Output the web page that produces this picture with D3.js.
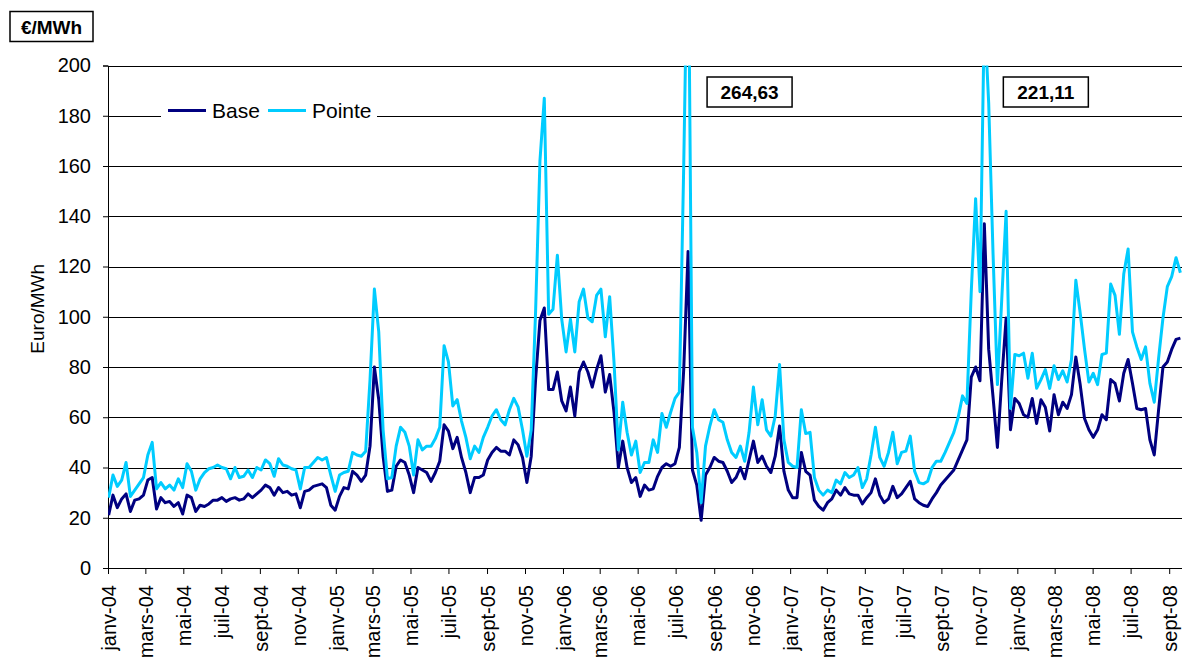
<!DOCTYPE html>
<html><head><meta charset="utf-8">
<script src="https://cdn.jsdelivr.net/npm/d3@7"></script>
<style>
html,body{margin:0;padding:0;background:#fff;overflow:hidden;}
svg{display:block;}
text{font-family:"Liberation Sans",Arial,sans-serif;fill:#000;}
</style></head>
<body>
<svg id="chart" width="1182" height="659"></svg>
<script>
// ---- data (weekly averages, €/MWh), first week starting 2 Jan 2004 ----
const seriesNames = ["Base", "Pointe"];
const base = [21,29,24,27.5,29.5,22.5,27,27.5,29,35,36,23.5,28,26,26.5,24.5,26,21.5,29,28,
22.5,25,24.5,25.5,27,27,28,26.5,27.5,28,27,27.5,29.5,28,29.5,31,33,32,29,32,
30,30.5,29,29.5,24,30.5,31,32.5,33,33.5,32,25,23,28.5,32,31.5,38.5,37,34.5,37,
48.5,80,67,44.5,30.5,31,40.5,43,42,37,30,40,39,38,34.5,38,42.5,57,54.5,47.5,
52,44,38,30,36,36,37,43,46,48,46.5,46.5,45,51,49,44,34,44.5,75,98.5,
103.5,71,71,78,66.5,62.5,72,60.5,78,82,78,72,79,84.5,70,77,62,40,50.5,40,
34,36,28.5,33,31,31.5,36.5,40,41.5,40.5,41.5,48,79,126,39,33,19,37,40,44,
42.5,42,38.5,34,36,40,35.5,43,50.5,42,44.5,40.5,38,44.5,56.5,38.5,31,28,28,46,
38.5,37,27,24.5,23,26,27.5,31,29,32,29.5,29,29,25.5,28,30,35.5,29,26,27.5,
32.5,28,29.5,32,34.5,27.5,26,25,24.5,27.5,30,33,35,37,39,43,47,51,76,80,
74.5,137,87,68,48,75,99.5,55,67.5,65.5,61,60,67.5,57.5,67,64,54.5,69,61,66,
63.5,69,84,73,59.5,55,52,55,61,59,75,73.5,66.5,77.5,83,73.5,63.5,63,63.5,51,
45,63,80,82,87,91,91.5];
const pointe = [28,37,32.5,35,42,28.5,31,33.5,36,45,50,31.5,34,31.5,33,31,35.5,32,41.5,38.5,
31,35.5,38,39.5,40,41,40,39.5,35.5,40,36,36.5,39,36,40,39,43,41.5,36.5,43.5,
41,40.5,39.5,39,31.5,40,40,42,44,43,44,37,30.5,37,38,38.5,46,45,44.5,46.5,
75,111,94,55,35.5,36,48.5,56,54,48.5,37,51,47,48.5,48.5,51.5,56,88.5,82,64.5,
67,58.5,52,43.5,48.5,46,52,56,60.5,63,59,57,63,67.5,64,55,44.5,55,102,162,
187,101,103,124.5,99,86,99,86,106,111,99.5,98,108.5,111,92,108,82,47,66,54,
45,50.5,38,42,42,51,46,61.5,56,62,67.5,70,160,264.63,56,46,26,48.5,56.5,63,
59,58,51,46,44,48.5,42.5,54,72,57,67,55,52.5,60.5,81,51,42,40.5,40,63,
53.5,54,36,31,29,31,30,35,33.5,38,36,37,40,32,35.5,45,56,44,40.5,46,
54,41.5,46,46.5,52.5,38.5,34,33.5,34.5,40,42.5,42.5,46,50,54,60,68.5,65.5,110,147,
110,221.11,185,125,73,107,142,63.5,85,84.5,85.5,75.5,85.5,71.5,75,79,71.5,80.5,75,78.5,
74,83,114.5,101.5,87,74,77.5,73,85,85.5,113,108.5,93,117,127,94,88,83,88,73.5,
66,83.5,99.5,112,116,123.5,117.5];
const yTicks = [0,20,40,60,80,100,120,140,160,180,200];
const xTickLabels = ["janv-04","mars-04","mai-04","juil-04","sept-04","nov-04",
"janv-05","mars-05","mai-05","juil-05","sept-05","nov-05",
"janv-06","mars-06","mai-06","juil-06","sept-06","nov-06",
"janv-07","mars-07","mai-07","juil-07","sept-07","nov-07",
"janv-08","mars-08","mai-08","juil-08","sept-08"];
const unitLabel = "€/MWh";
const yTitle = "Euro/MWh";

// ---- drawing ----
const colors = {Base:"#000080", Pointe:"#00CCFF"};
const L = 108, R = 1182, T = 65.5, B = 568;
const svg = d3.select("#chart");
const startDay = new Date(2004, 0, 2);
const dateOf = i => d3.timeDay.offset(startDay, 7 * i);
const x = d3.scaleTime().domain([new Date(2004,0,1), new Date(2008,8,21,14)]).range([L, R]);
const y = d3.scaleLinear().domain([0, 200]).range([B, T]);

svg.append("defs").append("clipPath").attr("id","plotclip")
  .append("rect").attr("x", L).attr("y", T).attr("width", R - L + 10).attr("height", B - T);

// gridlines
svg.append("g").selectAll("line").data(yTicks.filter(v => v > 0)).join("line")
  .attr("x1", L).attr("x2", R)
  .attr("y1", d => Math.round(y(d)) + 0.5).attr("y2", d => Math.round(y(d)) + 0.5)
  .attr("stroke", "#000").attr("stroke-width", 1);

// y axis
const yAxis = svg.append("g").attr("transform", `translate(${L},0)`)
  .call(d3.axisLeft(y).tickValues(yTicks).tickSize(5).tickPadding(12).tickFormat(d3.format("d")));
yAxis.select(".domain").attr("stroke", "#000");
yAxis.selectAll(".tick line").attr("stroke", "#000");
yAxis.selectAll("text").style("font-size", "20px").attr("fill", "#000");

// x axis
const tickDates = xTickLabels.map((s, i) => new Date(2004, 2 * i, 1));
const xAxis = svg.append("g").attr("transform", `translate(0,${B})`)
  .call(d3.axisBottom(x).tickValues(tickDates).tickSize(6).tickSizeOuter(0)
    .tickFormat((d, i) => xTickLabels[i]));
xAxis.select(".domain").attr("stroke", "#000");
xAxis.selectAll(".tick line").attr("stroke", "#000");
xAxis.selectAll("text").style("font-size", "20px").attr("fill", "#000")
  .attr("transform", "rotate(-90)").attr("text-anchor", "end")
  .attr("x", -17).attr("y", 0).attr("dy", "0.36em");

// y title
svg.append("text").attr("transform", `translate(44,${(T + B) / 2 - 8}) rotate(-90)`)
  .attr("text-anchor", "middle").style("font-size", "19px").text(yTitle);

// lines
const plot = svg.append("g").attr("clip-path", "url(#plotclip)");
const line = d3.line().x((d, i) => x(dateOf(i))).y(d => y(d));
[["Base", base], ["Pointe", pointe]].forEach(([name, vals]) => {
  plot.append("path").datum(vals).attr("d", line)
    .attr("fill", "none").attr("stroke", colors[name]).attr("stroke-width", 3)
    .attr("stroke-linejoin", "round");
});

// legend
const lg = svg.append("g");
lg.append("rect").attr("x", 161).attr("y", 97).attr("width", 216).attr("height", 28).attr("fill", "#fff");
const legX = [168, 268];
seriesNames.forEach((n, i) => {
  lg.append("line").attr("x1", legX[i]).attr("x2", legX[i] + 38).attr("y1", 110.5).attr("y2", 110.5)
    .attr("stroke", colors[n]).attr("stroke-width", 3);
  lg.append("text").attr("x", legX[i] + 44).attr("y", 110.5).attr("dy", "0.36em")
    .style("font-size", "21px").text(n);
});

// unit box
svg.append("rect").attr("x", 10).attr("y", 11.5).attr("width", 83).attr("height", 30)
  .attr("fill", "#fff").attr("stroke", "#000").attr("stroke-width", 1.5);
svg.append("text").attr("x", 51.5).attr("y", 27).attr("dy", "0.36em").attr("text-anchor", "middle")
  .style("font-size", "19px").style("font-weight", "bold").text(unitLabel);

// peak annotations (values above the 200 axis limit)
pointe.forEach((v, i) => {
  if (v > 200) {
    const lbl = v.toFixed(2).replace(".", ",");
    const bx = x(dateOf(i)) + 19;
    svg.append("rect").attr("x", bx).attr("y", 77).attr("width", 85).attr("height", 30)
      .attr("fill", "#fff").attr("stroke", "#000").attr("stroke-width", 1.5);
    svg.append("text").attr("x", bx + 42.5).attr("y", 92).attr("dy", "0.36em").attr("text-anchor", "middle")
      .style("font-size", "19px").style("font-weight", "bold").text(lbl);
  }
});
</script>
</body></html>
